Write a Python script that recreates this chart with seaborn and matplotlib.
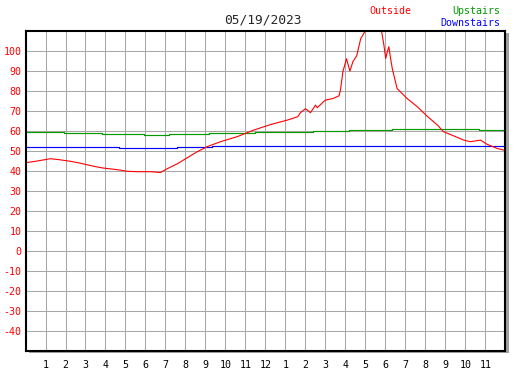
import numpy as np
import matplotlib
matplotlib.use("Agg")
import matplotlib.pyplot as plt
import seaborn as sns
import pandas as pd

# outside temperature, hours since midnight
out_hours = [0.0, 0.5, 1.25, 1.69, 2.25, 2.67, 3.07, 3.46, 3.9, 4.35, 4.74, 5.09, 5.63, 6.25, 6.75,
             7.09, 7.6, 8.09, 8.59, 9.08, 9.75, 10.58, 11.41, 12.23, 13.09, 13.61, 13.75, 14.0,
             14.25, 14.5, 14.59, 14.99, 15.38, 15.68, 15.75, 15.87, 16.05, 16.22, 16.37, 16.56,
             16.76, 16.91, 17.15, 17.45, 17.75, 17.92, 18.01, 18.09, 18.17, 18.24, 18.34, 18.58,
             19.08, 19.59, 20.11, 20.6, 20.9, 21.39, 21.91, 22.25, 22.75, 23.08, 23.59, 23.92]
out_temp = [44.0, 44.7, 46.0, 45.5, 44.7, 43.9, 43.0, 42.1, 41.3, 40.8, 40.3, 39.7, 39.5, 39.5, 39.1,
            41.0, 43.5, 46.5, 49.5, 52.0, 54.5, 57.0, 60.3, 63.0, 65.3, 67.0, 69.0, 71.0,
            69.0, 72.8, 71.5, 75.3, 76.1, 77.5, 80.5, 89.5, 96.0, 89.8, 94.5, 97.5,
            106.0, 108.5, 113.0, 116.0, 113.0, 102.8, 96.1, 99.5, 102.0, 97.0, 91.0, 81.1,
            76.1, 72.0, 67.0, 62.8, 59.5, 57.5, 55.3, 54.5, 55.3, 53.2, 51.1, 50.3]

# upstairs (steps)
up_hours = [0.0, 1.92, 3.84, 5.92, 7.2, 9.17, 11.49, 14.4, 16.17, 18.34, 22.67, 23.92]
up_temp = [59.5, 59.0, 58.5, 58.0, 58.5, 59.0, 59.5, 60.0, 60.5, 61.0, 60.5, 60.5]

# downstairs (steps)
down_hours = [0.0, 4.7, 7.6, 9.32, 23.92]
down_temp = [52.0, 51.5, 52.0, 52.4, 52.4]

hour_ticks = list(range(1, 24))
hour_labels = [str(h if h <= 12 else h - 12) for h in hour_ticks]
temp_ticks = list(range(-40, 101, 10))

sns.set_style("white")
plt.rcParams['font.family'] = ['DejaVu Sans Mono']

fig = plt.figure(figsize=(5.27, 3.70), dpi=100)
W, H = 527, 370
x0, y0, w, h = 25.5, 370 - 350.7, 480, 320
ax = fig.add_axes([x0 / W, y0 / H, w / W, h / H])

# drop shadow behind the frame
fig.patches.append(plt.Rectangle(((x0 + 3) / W, (y0 - 2.5) / H), w / W, h / H,
                                 transform=fig.transFigure, facecolor="#a0a0a0",
                                 edgecolor="none", zorder=-1))

ax.set_facecolor("white")
sns.lineplot(x=down_hours, y=down_temp, ax=ax, color="#0000ff", lw=0.85,
             drawstyle="steps-post", estimator=None, sort=False)
sns.lineplot(x=up_hours, y=up_temp, ax=ax, color="#009900", lw=0.85,
             drawstyle="steps-post", estimator=None, sort=False)
sns.lineplot(x=out_hours, y=out_temp, ax=ax, color="#ff0000", lw=0.8,
             estimator=None, sort=False)

ax.set_xlim(0, 24)
ax.set_ylim(-50, 110)
ax.set_xticks(hour_ticks)
ax.set_xticklabels(hour_labels)
ax.set_yticks(temp_ticks)
ax.set_yticklabels([str(t) for t in temp_ticks])
for hh in range(1, 24):
    ax.axvline(hh, color="#a8a8a8", lw=0.75, zorder=0.5)
for tt in temp_ticks:
    ax.axhline(tt, color="#a8a8a8", lw=0.75, zorder=0.5)
ax.tick_params(axis="x", direction="in", length=3, width=1, color="black",
               labelsize=7.2, pad=7, labelcolor="black")
ax.tick_params(axis="y", direction="in", length=3, width=1, color="black",
               labelsize=7.2, pad=3, labelcolor="#ff0000")
for side in ["left", "bottom", "right", "top"]:
    ax.spines[side].set_color("black")
    ax.spines[side].set_visible(True)
    ax.spines[side].set_linewidth(1.5)
    ax.spines[side].set_zorder(3)
ax.set_xlabel("")
ax.set_ylabel("")

fig.text(263 / W, 1 - 20 / H, "05/19/2023", ha="center", va="center", fontsize=9.3)
fig.text(390 / W, 1 - 11 / H, "Outside", ha="center", va="center", fontsize=7.2, color="#ff0000")
fig.text(500 / W, 1 - 11 / H, "Upstairs", ha="right", va="center", fontsize=7.2, color="#009900")
fig.text(500 / W, 1 - 23 / H, "Downstairs", ha="right", va="center", fontsize=7.2, color="#0000ff")

fig.savefig("out.png", dpi=100)
